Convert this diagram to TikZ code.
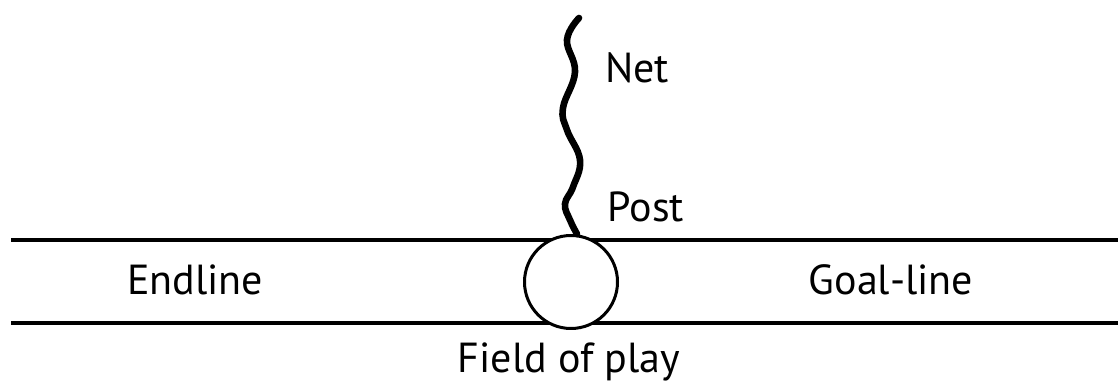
\documentclass[tikz,border=0pt]{standalone}
\usepackage{fontspec}
\setmainfont{PT Sans}
\usetikzlibrary{positioning}
\tikzset{line/.style = {line width = 2pt}}
\tikzset{post/.style = {draw, circle, fill = white, line width = 1.5pt, inner sep = 0, minimum size = 46.5pt}}
\tikzset{net/.style = {line width = 3.3pt, line cap = round}}
\tikzset{lbl/.style = {anchor = base, inner sep = 0, font = \fontsize{21}{25}\selectfont}}

\begin{document}
\begin{tikzpicture}[x = 0.5pt, y = -0.5pt]
    \useasboundingbox (0, 0) rectangle (1118, 383);
    \coordinate (endline top) at (11, 240);
    \coordinate (goal top) at (1118, 240);
    \coordinate (endline bottom) at (11, 323);
    \coordinate (goal bottom) at (1118, 323);
    \draw [line] (endline top) -- (goal top);
    \draw [line] (endline bottom) -- (goal bottom);
    \node [post] (post) at (571, 282) {};
    \coordinate (net top) at (579, 18);
    \draw [net] plot [smooth, tension = 0.7] coordinates {(net top) (567, 40) (575, 72) (563, 108) (567, 130) (580, 160) (573, 187) (565, 204) (570, 220) ([xshift = 3pt]post.north)};
    \node [lbl] (net label) at (637, 83) {Net};
    \node [lbl] (post label) at (646, 222) {Post};
    \node [lbl] (endline) at (195, 295) {Endline};
    \node [lbl] (goal-line) at (891, 295) {Goal-line};
    \node [lbl] (field) at (569, 373) {Field of play};
  \end{tikzpicture}
\end{document}
